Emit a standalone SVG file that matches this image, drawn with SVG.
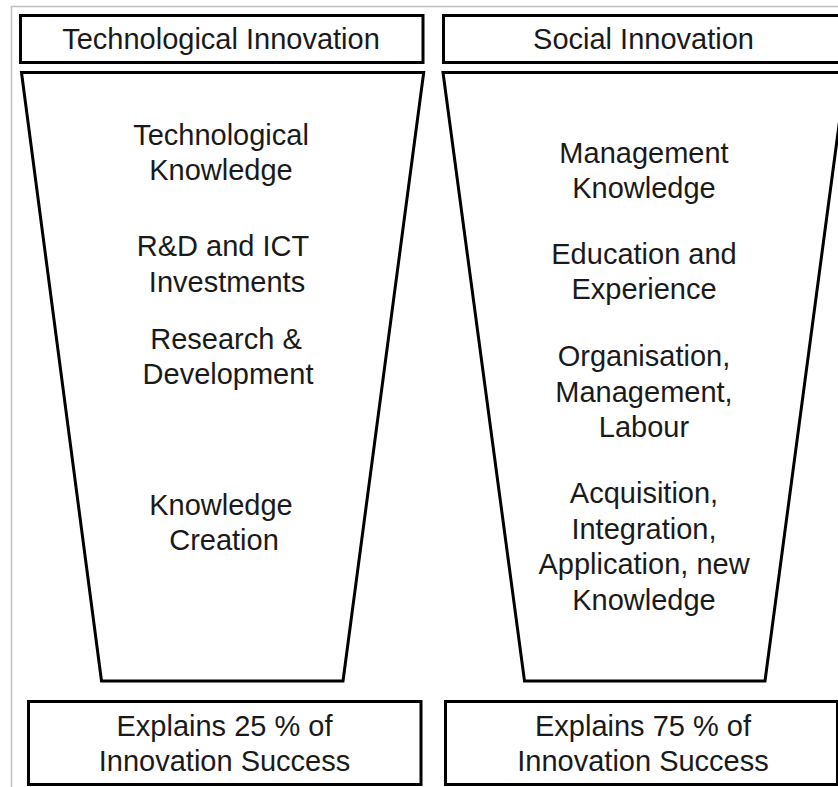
<svg xmlns="http://www.w3.org/2000/svg" width="838" height="787" viewBox="0 0 838 787">
<style>
.frame{fill:none;stroke:#c0c0c0;stroke-width:1.5}
.box{fill:#fff;stroke:#000;stroke-width:3}
.t{font-family:"Liberation Sans",Arial,sans-serif;font-size:29px;fill:#1a1a1a;text-anchor:middle}
</style>
<rect x="0" y="0" width="838" height="787" fill="#fff"/>
<path class="frame" d="M11.5,787 V6.5 H838"/>
<g id="tech-header">
<rect class="box" x="20.5" y="15.5" width="402.5" height="47"/>
<text class="t" x="221" y="49">Technological Innovation</text>
</g>
<g id="social-header">
<rect class="box" x="443.5" y="15.5" width="400" height="47"/>
<text class="t" x="643.5" y="49">Social Innovation</text>
</g>
<g id="tech-funnel">
<polygon class="box" points="21.5,72.5 423.7,72.5 343,681 101.5,681"/>
<text class="t" x="221" y="145">Technological</text>
<text class="t" x="221" y="180">Knowledge</text>
<text class="t" x="223" y="256">R&amp;D and ICT</text>
<text class="t" x="227" y="292">Investments</text>
<text class="t" x="226" y="349">Research &amp;</text>
<text class="t" x="228" y="384">Development</text>
<text class="t" x="221" y="515">Knowledge</text>
<text class="t" x="224" y="550">Creation</text>
</g>
<g id="social-funnel">
<polygon class="box" points="443,72.5 846,72.5 765,681 524.5,681"/>
<text class="t" x="644" y="163">Management</text>
<text class="t" x="644" y="198">Knowledge</text>
<text class="t" x="644" y="264">Education and</text>
<text class="t" x="644" y="299">Experience</text>
<text class="t" x="644" y="366">Organisation,</text>
<text class="t" x="644" y="402">Management,</text>
<text class="t" x="644" y="437">Labour</text>
<text class="t" x="644" y="503">Acquisition,</text>
<text class="t" x="644" y="539">Integration,</text>
<text class="t" x="644" y="574">Application, new</text>
<text class="t" x="644" y="610">Knowledge</text>
</g>
<g id="tech-result">
<rect class="box" x="28.5" y="701.5" width="392.5" height="83"/>
<text class="t" x="224.5" y="736">Explains 25 % of</text>
<text class="t" x="224.5" y="771">Innovation Success</text>
</g>
<g id="social-result">
<rect class="box" x="445.5" y="701.5" width="392" height="83"/>
<text class="t" x="643" y="736">Explains 75 % of</text>
<text class="t" x="643" y="771">Innovation Success</text>
</g>
<g id="connectors"></g>
</svg>
